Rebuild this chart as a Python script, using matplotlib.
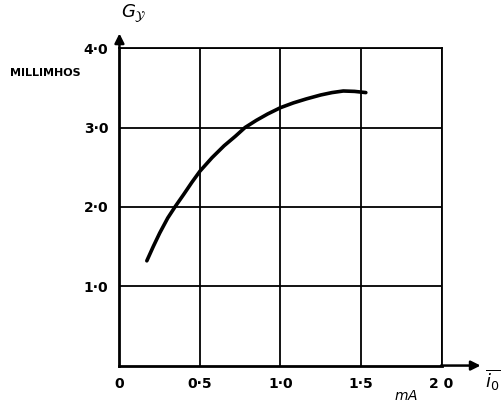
import matplotlib
matplotlib.use("Agg")
import matplotlib.pyplot as plt

# curve: anode current (mA) vs conductance (millimhos)
i0 = [0.17, 0.21, 0.25, 0.3, 0.345, 0.4, 0.45, 0.5, 0.575, 0.65, 0.72, 0.78,
      0.85, 0.92, 1.0, 1.08, 1.16, 1.25, 1.32, 1.39, 1.46, 1.53]
gy = [1.32, 1.5, 1.67, 1.86, 2.0, 2.16, 2.31, 2.45, 2.62, 2.77, 2.89, 3.0,
      3.09, 3.17, 3.25, 3.31, 3.36, 3.41, 3.44, 3.46, 3.455, 3.44]

xticks = [0, 0.5, 1.0, 1.5, 2.0]
xlabels = ["0", "0·5", "1·0", "1·5", "2 0"]
yticks = [1.0, 2.0, 3.0, 4.0]
ylabels = ["1·0", "2·0", "3·0", "4·0"]

fig = plt.figure(figsize=(5.04, 4.08), dpi=100)
ax = fig.add_axes([0.237, 0.104, 0.639, 0.778])
ax.set_xlim(0, 2)
ax.set_ylim(0, 4)

for x in xticks[1:]:
    ax.axvline(x, color="black", lw=1.3)
for y in yticks:
    ax.axhline(y, color="black", lw=1.3)
for s in ax.spines.values():
    s.set_linewidth(1.3)
ax.spines["left"].set_linewidth(2)
ax.spines["bottom"].set_linewidth(2)

ax.plot(i0, gy, color="black", lw=2.6, solid_capstyle="round", solid_joinstyle="round")

ax.set_xticks(xticks)
ax.set_xticklabels(xlabels, fontsize=10, fontweight="bold")
ax.set_yticks(yticks)
ax.set_yticklabels(ylabels, fontsize=10, fontweight="bold")
ax.tick_params(length=0, pad=8)

# axis arrows
arr = dict(arrowstyle="-|>", color="black", lw=1.8, mutation_scale=14)
ax.annotate("", xy=(0, 4.22), xytext=(0, 3.98), arrowprops=arr, annotation_clip=False)
ax.annotate("", xy=(2.26, 0), xytext=(1.98, 0), arrowprops=arr, annotation_clip=False)

ax.text(0.01, 4.3, r"$G_{\mathcal{Y}}$", fontsize=13, ha="left", va="bottom")
ax.text(2.27, -0.02, r"$\overline{i_0}$", fontsize=13, ha="left", va="top")
ax.text(1.78, -0.3, r"$m$A", fontsize=10, fontstyle="italic", ha="center", va="top")
fig.text(0.02, 0.82, "MILLIMHOS", fontsize=8, fontweight="bold", ha="left", va="center")

fig.savefig("out.png", dpi=100)
